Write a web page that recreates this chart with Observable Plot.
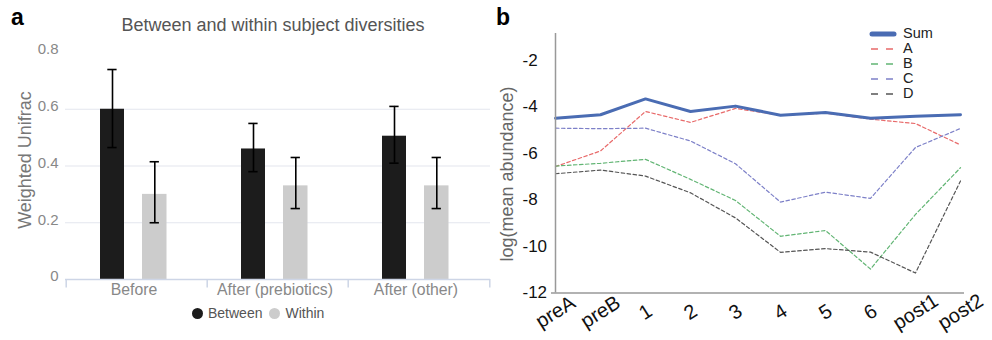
<!DOCTYPE html>
<html>
<head>
<meta charset="utf-8">
<script src="https://cdn.jsdelivr.net/npm/d3@7"></script>
<script src="https://cdn.jsdelivr.net/npm/@observablehq/plot@0.6"></script>
<style>
  body { margin: 0; background: #fff; font-family: "Liberation Sans", Arial, sans-serif; }
  #wrap { position: relative; width: 992px; height: 340px; overflow: hidden; background: #fff; }
  .abs { position: absolute; white-space: nowrap; }
  .panel { position: absolute; top: 0; }
  .plab { font-weight: bold; font-size: 23px; color: #000; }
  .rot { transform: translate(-50%, -50%) rotate(-90deg); }
</style>
</head>
<body>
<div id="wrap">
  <div id="pa" class="panel" style="left:0px"></div>
  <div id="pb" class="panel" style="left:490px"></div>
  <div class="abs plab" style="left:11px; top:4px;">a</div>
  <div class="abs plab" style="left:496px; top:4px;">b</div>
  <div class="abs" style="left:273px; top:15px; transform:translateX(-50%); font-size:18px; color:#555;">Between and within subject diversities</div>
  <div class="abs rot" style="left:25px; top:160px; font-size:18px; color:#777;">Weighted Unifrac</div>
  <div class="abs rot" style="left:507px; top:174px; font-size:18px; color:#666;">log(mean abundance)</div>
  <div id="legA" class="abs" style="left:192px; top:305px; font-size:14px; color:#555;"></div>
  <div id="legB" class="abs" style="left:868px; top:26px; font-size:14.5px; color:#222;"></div>
</div>
<script>
// ---------- Panel a data ----------
const catsA = ["Before", "After (prebiotics)", "After (other)"];
const seriesA = ["Between", "Within"];
const betweenVals = [0.60, 0.46, 0.505];
const betweenLo = [0.465, 0.38, 0.41];
const betweenHi = [0.74, 0.55, 0.61];
const withinVals = [0.30, 0.33, 0.33];
const withinLo = [0.20, 0.25, 0.25];
const withinHi = [0.415, 0.43, 0.43];
const yTicksA = [0, 0.2, 0.4, 0.6, 0.8];
const gridA = [0.2, 0.4, 0.6];

// ---------- Panel b data ----------
const timepoints = ["preA", "preB", "1", "2", "3", "4", "5", "6", "post1", "post2"];
const sumVals = [-4.48, -4.33, -3.65, -4.19, -3.96, -4.35, -4.23, -4.48, -4.40, -4.33];
const aVals = [-6.56, -5.89, -4.19, -4.66, -4.06, -4.35, -4.26, -4.52, -4.71, -5.63];
const bVals = [-6.54, -6.42, -6.25, -7.11, -8.02, -9.56, -9.31, -10.97, -8.62, -6.61];
const cVals = [-4.91, -4.93, -4.91, -5.46, -6.44, -8.09, -7.66, -7.93, -5.74, -4.92];
const dVals = [-6.87, -6.71, -6.97, -7.69, -8.77, -10.25, -10.09, -10.24, -11.14, -7.18];
const seriesB = ["Sum", "A", "B", "C", "D"];
const yTicksB = [-2, -4, -6, -8, -10, -12];

const colorsB = {Sum: "#4a6cb3", A: "#e86a6a", B: "#62b574", C: "#7d80c8", D: "#555555"};
const colorBetween = "#1c1c1c", colorWithin = "#cccccc";

// ---------- Panel a ----------
const rowsBetween = catsA.map((c, i) => ({cat: c, value: betweenVals[i], lo: betweenLo[i], hi: betweenHi[i]}));
const rowsWithin = catsA.map((c, i) => ({cat: c, value: withinVals[i], lo: withinLo[i], hi: withinHi[i]}));

const plotA = Plot.plot({
  width: 490, height: 340,
  marginLeft: 65, marginRight: 0, marginTop: 52, marginBottom: 61,
  style: {background: "transparent", fontFamily: "Liberation Sans, Arial, sans-serif", overflow: "visible"},
  x: {type: "band", domain: catsA, padding: 0, label: null, axis: null},
  y: {domain: [0, 0.8], label: null, axis: null},
  marks: [
    Plot.ruleY(gridA, {stroke: "#e3e6ee", strokeWidth: 1.2}),
    Plot.barY(rowsBetween, {x: "cat", y: "value", fill: colorBetween, insetLeft: 34, insetRight: 83}),
    Plot.barY(rowsWithin, {x: "cat", y: "value", fill: colorWithin, insetLeft: 76, insetRight: 40.5}),
    Plot.ruleY([0], {stroke: "#cdd5e6", strokeWidth: 1.5}),
    Plot.ruleX(catsA, {x: d => d, y1: 0, y2: -0.03, dx: -70.8, stroke: "#cdd5e6", strokeWidth: 1.5}),
    Plot.ruleX(catsA.slice(-1), {x: d => d, y1: 0, y2: -0.03, dx: 70.8, stroke: "#cdd5e6", strokeWidth: 1.5}),
    Plot.ruleX(rowsBetween, {x: "cat", y1: "lo", y2: "hi", dx: -24.5, stroke: "#000", strokeWidth: 1.6}),
    Plot.ruleX(rowsWithin, {x: "cat", y1: "lo", y2: "hi", dx: 17.8, stroke: "#000", strokeWidth: 1.6}),
    Plot.tickY(rowsBetween, {x: "cat", y: "hi", insetLeft: 41.3, insetRight: 90.4, stroke: "#000", strokeWidth: 1.6}),
    Plot.tickY(rowsBetween, {x: "cat", y: "lo", insetLeft: 41.3, insetRight: 90.4, stroke: "#000", strokeWidth: 1.6}),
    Plot.tickY(rowsWithin, {x: "cat", y: "hi", insetLeft: 83.6, insetRight: 48.1, stroke: "#000", strokeWidth: 1.6}),
    Plot.tickY(rowsWithin, {x: "cat", y: "lo", insetLeft: 83.6, insetRight: 48.1, stroke: "#000", strokeWidth: 1.6}),
    Plot.axisY({ticks: yTicksA, tickSize: 0, tickPadding: 7, dy: -3, fontSize: 15, color: "#888", label: null, tickFormat: d => String(d)}),
    Plot.axisX({tickSize: 0, tickPadding: 4, dx: -3, fontSize: 15.8, color: "#888", label: null})
  ]
});
document.getElementById("pa").appendChild(plotA);

// legend a
const legA = document.getElementById("legA");
legA.innerHTML = seriesA.map((s, i) => {
  const col = i === 0 ? colorBetween : colorWithin;
  return `<span style="display:inline-block;width:11px;height:11px;border-radius:50%;background:${col};vertical-align:-1px;margin-right:5px;"></span><span style="margin-right:7px;">${s}</span>`;
}).join("");

// ---------- Panel b ----------
const valsBySeries = {Sum: sumVals, A: aVals, B: bVals, C: cVals, D: dVals};
const rowsB = [];
for (const s of seriesB) timepoints.forEach((t, i) => rowsB.push({series: s, t, v: valsBySeries[s][i]}));

const dashedMarks = ["A", "B", "C", "D"].map(s =>
  Plot.line(rowsB.filter(r => r.series === s), {x: "t", y: "v", stroke: colorsB[s], strokeWidth: 1.2, strokeDasharray: "3.5,2.5"})
);

const plotB = Plot.plot({
  width: 502, height: 340,
  marginLeft: 61, marginRight: 28, marginTop: 33, marginBottom: 47.5,
  style: {background: "transparent", fontFamily: "Liberation Sans, Arial, sans-serif", overflow: "visible"},
  x: {type: "point", domain: timepoints, padding: 0, label: null, axis: null},
  y: {domain: [-12, -0.836], label: null, axis: null},
  marks: [
    ...dashedMarks,
    Plot.line(rowsB.filter(r => r.series === "Sum"), {x: "t", y: "v", stroke: colorsB.Sum, strokeWidth: 3}),
    Plot.ruleY([-12], {stroke: "#999", strokeWidth: 1.5}),
    Plot.ruleX(timepoints.slice(0, 1), {x: d => d, stroke: "#999", strokeWidth: 1.5}),
    Plot.text(yTicksB, {y: d => d, text: d => String(d), frameAnchor: "left", textAnchor: "start", dx: -29, fontSize: 17, fill: "#111"}),
    Plot.text(timepoints, {x: d => d, y: -12, text: d => d, dy: 19, rotate: -32, fontSize: 20, fill: "#111"})
  ]
});
document.getElementById("pb").appendChild(plotB);

// legend b
const legB = document.getElementById("legB");
legB.innerHTML = seriesB.map((s, i) => {
  const col = colorsB[s];
  const line = s === "Sum"
    ? `<line x1="4" y1="7" x2="26" y2="7" stroke="${col}" stroke-width="5" stroke-linecap="round"/>`
    : `<line x1="3" y1="7" x2="27" y2="7" stroke="${col}" stroke-width="1.3" stroke-dasharray="7,8"/>`;
  return `<div style="height:15px;line-height:15px;display:flex;align-items:center;"><svg width="30" height="14" style="margin-right:5px;">${line}</svg><span>${s}</span></div>`;
}).join("");
</script>
</body>
</html>
